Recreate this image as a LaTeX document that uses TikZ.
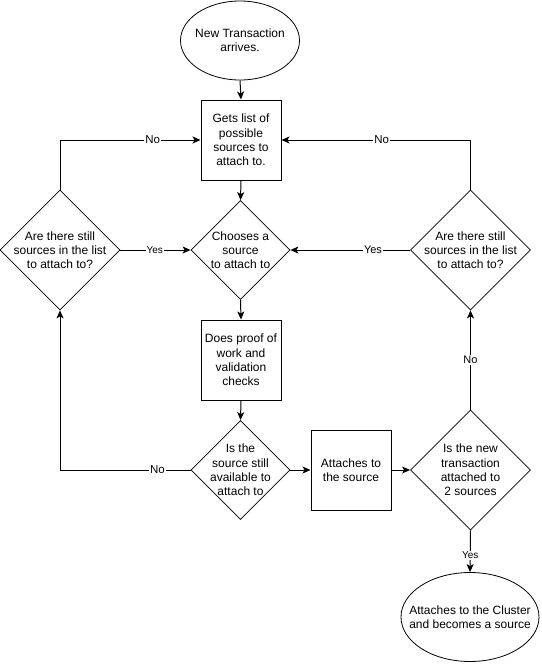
\documentclass[tikz,border=0pt]{standalone}
\usepackage{fontspec}
\setmainfont{Liberation Sans}
\usetikzlibrary{shapes.geometric,arrows.meta}
\tikzset{
  boxshape/.style={draw,line width=1pt,rectangle,minimum width=80pt,minimum height=80pt,inner sep=0pt},
  diashape/.style={draw,line width=0.8pt,diamond,minimum width=#1,minimum height=#1,inner sep=0pt},
  ellshape/.style={draw,line width=0.8pt,ellipse,inner sep=0pt},
  txt/.style={align=center,font=\fontsize{12}{14.2}\selectfont,inner sep=0pt},
  arr/.style={line width=1pt,-{Stealth[length=8pt,width=7pt,inset=2pt]}},
  lbl/.style={fill=white,inner sep=1pt,font=\fontsize{#1}{#1}\selectfont},
}
\begin{document}
\begin{tikzpicture}[x=1pt,y=-1pt]
\useasboundingbox (0,0) rectangle (541,669);
% shapes
\node[ellshape,minimum width=119pt,minimum height=79pt] (e1) at (240,40.5) {};
\node[txt] (e1t) at (e1) {New Transaction\\arrives.};
\node[boxshape] (b1) at (241,140) {};
\node[txt] (b1t) at (b1) {Gets list of\\possible\\sources to\\attach to.};
\node[diashape=120pt] (dL) at (60,250) {};
\node[txt] (dLt) at (dL) {Are there still\\sources in the list\\to attach to?};
\node[diashape=99pt] (dM) at (240.5,250) {};
\node[txt] (dMt) at (dM) {Chooses a\\source\\to attach to};
\node[diashape=120pt] (dR) at (470.5,250) {};
\node[txt] (dRt) at (dR) {Are there still\\sources in the list\\to attach to?};
\node[boxshape] (b2) at (241,360) {};
\node[txt] (b2t) at (b2) {Does proof of\\work and\\validation\\checks};
\node[diashape=99pt] (d3) at (240.5,470) {};
\node[txt] (d3t) at (d3) {Is the\\source still\\available to\\attach to};
\node[boxshape] (b3) at (351,470) {};
\node[txt] (b3t) at (b3) {Attaches to\\the source};
\node[diashape=120pt] (d4) at (470.5,470) {};
\node[txt] (d4t) at (d4) {Is the new\\transaction\\attached to\\2 sources};
\node[ellshape,minimum width=138pt,minimum height=89pt] (e2) at (470,617) {};
\node[txt] (e2t) at (e2) {Attaches to the Cluster\\and becomes a source};
% connectors
\draw[arr] (e1.south) -- (b1.north);
\draw[arr] (b1.south) -- (dM.north);
\draw[arr] (dL.north) |- node[lbl=11.5,pos=0.83] {No} (b1.west);
\draw[arr] (dR.north) |- node[lbl=11.5,pos=0.735] {No} (b1.east);
\draw[arr] (dL.east) -- node[lbl=10,pos=0.49] {Yes} (dM.west);
\draw[arr] (dR.west) -- node[lbl=11,pos=0.31] {Yes} (dM.east);
\draw[arr] (dM.south) -- (b2.north);
\draw[arr] (b2.south) -- (d3.north);
\draw[arr] (d3.west) -| node[lbl=11.5,pos=0.127] {No} (dL.south);
\draw[arr] (d3.east) -- (b3.west);
\draw[arr] (b3.east) -- (d4.west);
\draw[arr] (d4.north) -- node[lbl=11,pos=0.5] {No} (dR.south);
\draw[arr] (d4.south) -- node[lbl=10,pos=0.6] {Yes} (e2.north);
\end{tikzpicture}
\end{document}
